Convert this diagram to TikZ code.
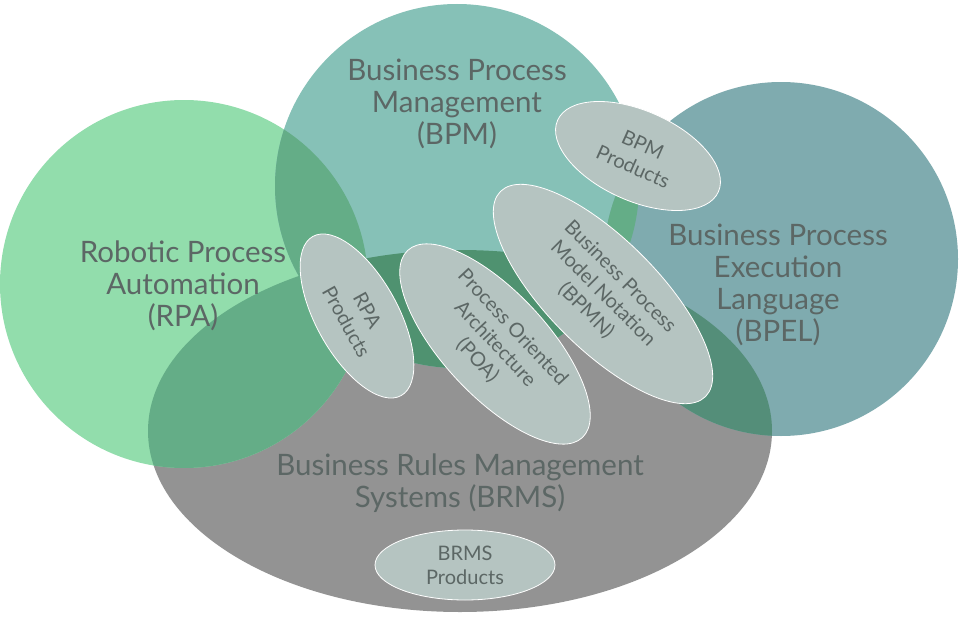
\documentclass[tikz,border=0pt]{standalone}
\usepackage{fontspec}
\setmainfont{Lato}
\usetikzlibrary{shapes.geometric}
\definecolor{RPAGreen}{HTML}{92DDAC}
\definecolor{BPMTeal}{HTML}{86C1B7}
\definecolor{BPELTeal}{HTML}{7FABAF}
\definecolor{BRMSGray}{HTML}{939393}
\definecolor{MixGreen}{HTML}{64AD87}
\definecolor{DeepGreen}{HTML}{4F9270}
\definecolor{DeepTeal}{HTML}{548E79}
\definecolor{ProdGray}{HTML}{B5C4C1}
\definecolor{LabelGray}{HTML}{5C6765}

\begin{document}
\begin{tikzpicture}[x=1pt,y=-1pt,
  area/.style={font=\fontsize{29.5}{32}\selectfont,text=LabelGray,align=center},
  prod/.style={ellipse,draw=white,line width=0.8pt,fill=ProdGray,inner sep=0pt,
    text=LabelGray,align=center,font=\fontsize{20}{24}\selectfont}]
  \useasboundingbox (0,0) rectangle (961,618);
  % the four sets
  \def\rpaset{(184,284) circle (184)}
  \def\bpmset{(457,186) circle (182)}
  \def\bpelset{(781,259) circle (177)}
  \def\brmsset{(460,431) ellipse [x radius=312,y radius=181]}
  \fill[BRMSGray] \brmsset;
  \fill[RPAGreen] \rpaset;
  \fill[BPMTeal] \bpmset;
  \fill[BPELTeal] \bpelset;
  % overlaps
  \begin{scope}
    \clip \brmsset;
    \fill[DeepGreen] \bpmset;
    \fill[DeepTeal] \bpelset;
  \end{scope}
  \begin{scope}
    \clip \rpaset;
    \fill[MixGreen] \bpmset;
    \fill[MixGreen] \brmsset;
  \end{scope}
  \begin{scope}
    \clip \bpmset;
    \fill[MixGreen] \bpelset;
  \end{scope}
  % set labels
  \node[area] (rpa) at (183,286) {Robotic Process\\Automation\\(RPA)};
  \node[area] (bpm) at (457,104) {Business Process\\Management\\(BPM)};
  \node[area] (bpel) at (778,285) {Business Process\\Execution\\Language\\(BPEL)};
  \node[area] (brms) at (460,483) {Business Rules Management\\Systems (BRMS)};
  % products and standards
  \node[prod,minimum width=182,minimum height=82,rotate=-61] (rpaprod) at (357,316) {RPA\\Products};
  \node[prod,minimum width=256,minimum height=104,rotate=-47] (poa) at (495,344) {Process Oriented\\Architecture\\(POA)};
  \node[prod,minimum width=290,minimum height=110,rotate=-45] (bpmn) at (603,294) {Business Process\\Model Notation\\(BPMN)};
  \node[prod,minimum width=176,minimum height=90,rotate=-24] (bpmprod) at (638,156) {BPM\\Products};
  \node[prod,minimum width=180,minimum height=70] (brmsprod) at (465,565) {BRMS\\Products};
\end{tikzpicture}
\end{document}
